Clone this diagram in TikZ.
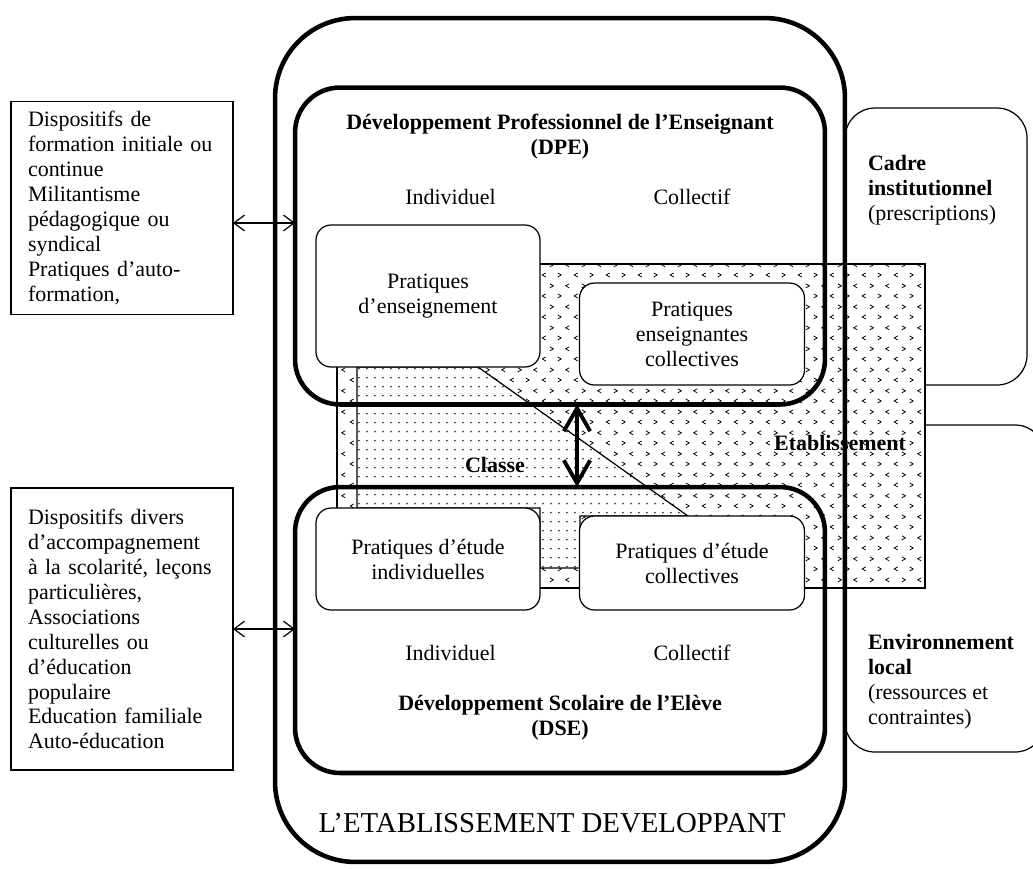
\documentclass[tikz,border=0pt]{standalone}
\usepackage{fontspec}
\setmainfont{Liberation Serif}
\usetikzlibrary{positioning,patterns,arrows.meta}

% staggered < > marks for the school zone
\pgfdeclarepatternformonly{chevrons}{\pgfpointorigin}{\pgfqpoint{18pt}{12pt}}{\pgfqpoint{18pt}{12pt}}{%
  \pgfsetlinewidth{0.45pt}%
  \pgfpathmoveto{\pgfqpoint{3.3pt}{1.8pt}}\pgfpathlineto{\pgfqpoint{1.3pt}{3pt}}\pgfpathlineto{\pgfqpoint{3.3pt}{4.2pt}}%
  \pgfpathmoveto{\pgfqpoint{10.2pt}{1.8pt}}\pgfpathlineto{\pgfqpoint{12.2pt}{3pt}}\pgfpathlineto{\pgfqpoint{10.2pt}{4.2pt}}%
  \pgfpathmoveto{\pgfqpoint{5.7pt}{7.8pt}}\pgfpathlineto{\pgfqpoint{7.7pt}{9pt}}\pgfpathlineto{\pgfqpoint{5.7pt}{10.2pt}}%
  \pgfpathmoveto{\pgfqpoint{16.8pt}{7.8pt}}\pgfpathlineto{\pgfqpoint{14.8pt}{9pt}}\pgfpathlineto{\pgfqpoint{16.8pt}{10.2pt}}%
  \pgfusepath{stroke}}
% plain dots for the class zone
\pgfdeclarepatternformonly{finedots}{\pgfpointorigin}{\pgfqpoint{4.5pt}{5pt}}{\pgfqpoint{4.5pt}{5pt}}{%
  \pgfpathcircle{\pgfqpoint{2.25pt}{2.5pt}}{0.5pt}\pgfusepath{fill}}

\begin{document}
\begin{tikzpicture}
[x=0.02cm,y=-0.02cm,
 every node/.style={inner sep=0mm,outer sep=0mm,font=\fontsize{12.5pt}{14.2pt}\selectfont},
 prat/.style={draw,rectangle,rounded corners=3mm,fill=white,line width=0.7pt,align=center},
 dev/.style={draw,rectangle,rounded corners=9mm,line width=2.6pt,minimum width=10.6cm},
 etab/.style={draw,rectangle,rounded corners=16mm,line width=2.6pt},
 ctx/.style={draw,rounded corners=6mm,fill=white,line width=0.7pt},
 zone/.style={draw,line width=0.7pt,preaction={fill=white}},
 lft/.style={draw,rectangle,line width=0.7pt,text width=3.76cm,inner xsep=3.4mm,align=left},
 ttl/.style={font=\fontsize{12.5pt}{14.2pt}\selectfont\bfseries,align=center},
 duo/.style={{Straight Barb[length=6pt,width=9pt]}-{Straight Barb[length=6pt,width=9pt]},line width=0.7pt},
 big/.style={{Straight Barb[length=13pt,width=15pt]}-{Straight Barb[length=13pt,width=15pt]},line width=2.2pt}]
\useasboundingbox (0,0) rectangle (1033,869);
\clip (0,0) rectangle (1033,869);

% context on the right
\draw[ctx] (845,108) rectangle (1027,385);
\draw[ctx] (845,425) rectangle (1045,752);

% school and class zones
\draw[zone,pattern=chevrons] (337,264) rectangle (925,588);
\draw[zone,pattern=finedots] (357,367) -- (478,367) -- (688,516) -- (580,516)
  -- (580,568) -- (540,568) -- (540,508) -- (357,508) -- cycle;
\node[ttl] (etabt) at (840,443) {Etablissement};
\node[ttl] (cls)   at (495,465) {Classe};

% practices
\node[prat,minimum width=4.48cm,minimum height=2.84cm] (pens) at (428,296) {Pratiques\\d’enseignement};
\node[prat,minimum width=4.5cm,minimum height=2.04cm]  (pcol) at (692,334) {Pratiques\\enseignantes\\collectives};
\node[prat,minimum width=4.48cm,minimum height=2.04cm] (peti) at (428,559) {Pratiques d’étude\\individuelles};
\node[prat,minimum width=4.5cm,minimum height=1.88cm]  (petc) at (692,563) {Pratiques d’étude\\collectives};

% developments
\node[dev,minimum height=6.34cm] (dpe) at (560,246) {};
\node[dev,minimum height=5.72cm] (dse) at (560,630) {};
\node[etab,minimum width=11.4cm,minimum height=16.88cm] (etab) at (560,440) {};

\node[ttl] (dpet) at (560,137) {Développement Professionnel de l’Enseignant\\(DPE)};
\node (ind1) [above=4mm of pens,xshift=4.5mm] {Individuel};
\node (col1) at (ind1 -| pcol) {Collectif};
\node (ind2) [below=7mm of peti,xshift=4.5mm] {Individuel};
\node (col2) at (ind2 -| petc) {Collectif};
\node[ttl] (dset) at (560,718) {Développement Scolaire de l’Elève\\(DSE)};
\node[font=\fontsize{16.4pt}{19pt}\selectfont] (etabl) at (552,823) {L’ETABLISSEMENT DEVELOPPANT};

% outside devices
\node[lft,minimum height=4.26cm] (lb1) at (122,208) {Dispositifs de\\formation initiale ou\\continue\\Militantisme\\pédagogique ou\\syndical\\Pratiques d’auto-\\formation,};
\node[lft,minimum height=5.64cm] (lb2) at (122,629) {Dispositifs divers\\d’accompagnement\\à la scolarité, leçons\\particulières,\\Associations\\culturelles ou\\d’éducation\\populaire\\Education familiale\\Auto-éducation};

\node[align=left,anchor=west] (cadt) at (868,190) {\textbf{Cadre}\\\textbf{institutionnel}\\(prescriptions)};
\node[align=left,anchor=west] (envt) at (868,682) {\textbf{Environnement}\\\textbf{local}\\(ressources et\\contraintes)};

\path[duo] (lb1.east |- 0,223) edge (dpe.west |- 0,223);
\path[duo] (lb2.east) edge (lb2.east -| dse.west);
\path[big] (577,0 |- dpe.south) edge (577,0 |- dse.north);
\end{tikzpicture}
\end{document}
